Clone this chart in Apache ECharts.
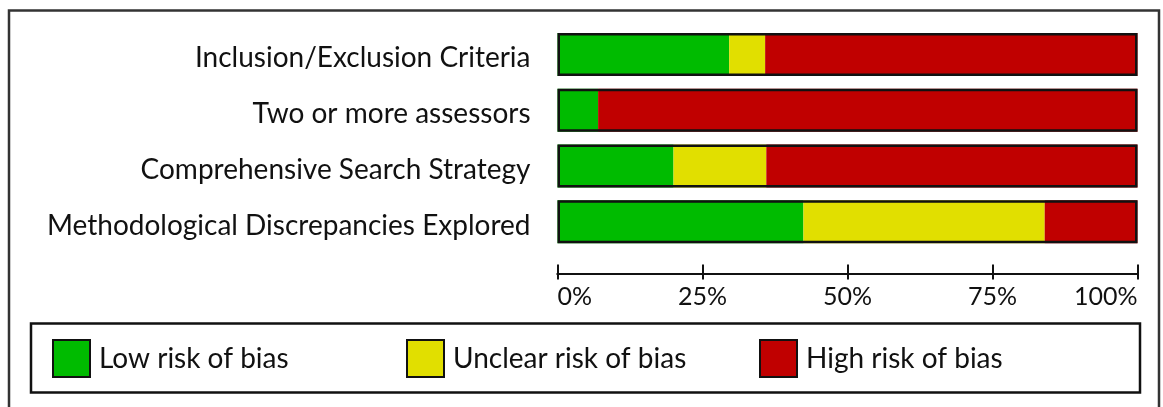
<!DOCTYPE html>
<html>
<head>
<meta charset="utf-8">
<script src="https://cdn.jsdelivr.net/npm/echarts@6/dist/echarts.min.js"></script>
<style>
  html, body { margin: 0; padding: 0; background: #fff; }
  #chart { width: 1163px; height: 407px; }
</style>
</head>
<body>
<div id="chart"></div>
<script>
// domains, top to bottom
const domains = [
  'Inclusion/Exclusion Criteria',
  'Two or more assessors',
  'Comprehensive Search Strategy',
  'Methodological Discrepancies Explored'
]
// percent of studies per judgement
const lowRisk = [29.6, 7.0, 20.0, 42.4]
const unclearRisk = [6.2, 0, 16.0, 41.6]
const highRisk = [64.2, 93.0, 64.0, 16.0]
const fullBar = [100, 100, 100, 100]
const tickValues = [0, 25, 50, 75, 100]

const GREEN = '#00bb00'
const YELLOW = '#e1df00'
const RED = '#c00000'
const FONT = 'Lato'

const chart = echarts.init(document.getElementById('chart'))

const xBase = {
  type: 'value',
  min: 0,
  max: 100,
  interval: 25,
  position: 'bottom',
  offset: 24,
  splitLine: { show: false },
  axisLine: { show: true, lineStyle: { color: '#111', width: 2 } }
}

const legendCommon = {
  top: 339,
  itemWidth: 37,
  itemHeight: 37,
  icon: 'rect',
  itemStyle: { borderColor: '#111', borderWidth: 2 },
  textStyle: { fontFamily: FONT, fontSize: 28, color: '#111', padding: [0, 0, 0, 4] },
  itemGap: 0,
  padding: 0
}

chart.setOption({
  animation: false,
  grid: { left: 557.5, right: 25.5, top: 26.5, bottom: 157.5 },
  yAxis: {
    type: 'category',
    data: domains,
    inverse: true,
    axisLine: { show: false },
    axisTick: { show: false },
    axisLabel: {
      margin: 27,
      formatter: v => '{d|' + v + '}',
      rich: {
        d: { fontFamily: FONT, fontSize: 28, color: '#111', padding: [8, 0, 0, 0] }
      }
    }
  },
  xAxis: [
    Object.assign({}, xBase, {
      axisTick: { show: true, inside: false, length: 6, lineStyle: { color: '#111', width: 2 } },
      axisLabel: {
        margin: 11,
        fontFamily: FONT,
        fontSize: 25,
        color: '#111',
        alignMinLabel: 'left',
        alignMaxLabel: 'right',
        formatter: v => tickValues.includes(v) ? v + '%' : ''
      }
    }),
    Object.assign({}, xBase, {
      axisTick: { show: true, inside: true, length: 9, lineStyle: { color: '#111', width: 2 } },
      axisLabel: { show: false }
    })
  ],
  legend: [
    Object.assign({}, legendCommon, { left: 52, data: ['Low risk of bias'] }),
    Object.assign({}, legendCommon, { left: 406, data: ['Unclear risk of bias'] }),
    Object.assign({}, legendCommon, { left: 759, data: ['High risk of bias'] })
  ],
  series: [
    { name: 'Low risk of bias', type: 'bar', stack: 'risk', data: lowRisk, barWidth: 43,
      itemStyle: { color: GREEN } },
    { name: 'Unclear risk of bias', type: 'bar', stack: 'risk', data: unclearRisk, barWidth: 43,
      itemStyle: { color: YELLOW } },
    { name: 'High risk of bias', type: 'bar', stack: 'risk', data: highRisk, barWidth: 43,
      itemStyle: { color: RED } },
    // black outline round each whole bar
    { name: 'outline', type: 'bar', data: fullBar, barWidth: 43, barGap: '-100%', z: 5,
      silent: true,
      itemStyle: { color: 'transparent', borderColor: '#111', borderWidth: 2.5 } }
  ],
  graphic: [
    { type: 'rect', shape: { x: 9, y: 10.5, width: 1150, height: 500 },
      style: { fill: 'none', stroke: '#333', lineWidth: 2.5 }, silent: true },
    { type: 'rect', shape: { x: 31, y: 323.5, width: 1109, height: 69 },
      style: { fill: 'none', stroke: '#111', lineWidth: 2.5 }, silent: true }
  ]
})
</script>
</body>
</html>
